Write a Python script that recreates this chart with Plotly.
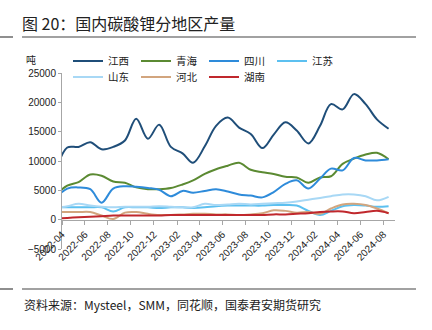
import plotly.graph_objects as go

# Monthly data (dated mid-month); first point (2022-03) lies left of the axis start and is clipped
months = ["2022-03-15"] + [f"{y}-{m:02d}-15" for y in (2022, 2023, 2024) for m in range(1, 13)
                          if (y, m) >= (2022, 4) and (y, m) <= (2024, 8)]

jiangxi = [8100, 12300, 12400, 13200, 12000, 12400, 13500, 17200, 13800, 16200, 12400, 11300, 9700,
           12500, 16000, 17400, 15700, 14600, 12200, 14500, 16600, 15200, 13000, 16000, 19700, 18800,
           21400, 19700, 17100, 15500]
qinghai = [4200, 5800, 6400, 7700, 7500, 6500, 6300, 5500, 5200, 5200, 5400, 6000, 6700,
           7800, 8600, 9200, 9700, 8500, 8100, 7800, 7300, 7200, 6300, 7200, 7400, 9500,
           10400, 11100, 11400, 10300]
sichuan = [3700, 5300, 5500, 5200, 2900, 5300, 5700, 5600, 5400, 5100, 4000, 4900, 4600,
           4900, 5200, 4800, 4300, 4100, 3800, 4700, 6100, 6700, 5300, 7000, 8700, 8400,
           10500, 10100, 10100, 10300]
jiangsu = [2100, 2100, 2100, 2100, 2100, 1400, 2100, 2100, 2100, 2000, 2100, 2100, 2000,
           2100, 2300, 2400, 2400, 2400, 2400, 2500, 2500, 2400, 1500, 800, 1500, 2300,
           2500, 2400, 2200, 2300]
shandong = [2000, 2300, 2700, 2400, 2200, 2100, 2200, 2200, 2200, 2300, 2200, 2100, 2100,
            2700, 2500, 2600, 2700, 2600, 2700, 2800, 2900, 3100, 3400, 3700, 4000, 4300,
            4300, 4000, 3300, 3900]
hebei = [1300, 1300, 1300, 1300, 700, 100, 1200, 1300, 1000, 800, 800, 900, 1000,
         1000, 900, 900, 800, 900, 1100, 1600, 1500, 1200, 1300, 1000, 1900, 2600,
         2700, 2500, 1900, 1100]
hunan = [200, 300, 400, 500, 600, 700, 700, 700, 700, 700, 800, 800, 800,
         800, 800, 800, 800, 800, 800, 900, 900, 1000, 1100, 1300, 1400, 1400,
         1100, 1300, 1500, 1100]

series = [
    ("江西", jiangxi, "#1F4E79", "legend"),
    ("青海", qinghai, "#5B8A32", "legend"),
    ("四川", sichuan, "#2E8BDA", "legend"),
    ("江苏", jiangsu, "#5CC0F0", "legend"),
    ("山东", shandong, "#A8D8F5", "legend2"),
    ("河北", hebei, "#D2A57E", "legend2"),
    ("湖南", hunan, "#C0282D", "legend2"),
]

title_text = "图 20：国内碳酸锂分地区产量"
source_text = "资料来源：Mysteel，SMM，同花顺，国泰君安期货研究"
unit_text = "吨"

CJK = "Noto Sans CJK SC"
NUM = "Liberation Sans"

fig = go.Figure()
for name, vals, color, lg in series:
    fig.add_trace(go.Scatter(
        x=months, y=vals, name=name, mode="lines",
        line=dict(color=color, width=2, shape="spline", smoothing=1.0),
        legend=lg, hoverinfo="skip",
    ))

W, H = 432, 330
L, R, T, B = 62, 37, 73, 81
pw, ph = W - L - R, H - T - B

def px(x):
    return (x - L) / pw

def py(y):
    return (H - B - y) / ph

ymin, ymax = -5000, 25000

legend_common = dict(orientation="h", xanchor="left", yanchor="middle",
                     font=dict(family=CJK, size=10.5, color="#222"),
                     bgcolor="rgba(0,0,0,0)", itemwidth=30, tracegroupgap=0,
                     entrywidth=23)

fig.update_layout(
    width=W, height=H,
    margin=dict(l=L, r=R, t=T, b=B, pad=0),
    paper_bgcolor="white", plot_bgcolor="white",
    showlegend=True,
    title=dict(text=title_text, font=dict(family=CJK, size=16, color="#222"),
               x=22 / W, xanchor="left", xref="container",
               y=1 - 24 / H, yanchor="middle", yref="container"),
    xaxis=dict(
        type="date", range=["2022-04-01", "2024-09-01"],
        tick0="2022-04-01", dtick="M2", tickformat="%Y-%m", tickangle=-45,
        showgrid=False, showline=True, linecolor="#A6A6A6", linewidth=1,
        ticks="outside", ticklen=4, tickcolor="#A6A6A6",
        tickfont=dict(family=NUM, size=10, color="#222"),
        anchor="free", position=(0 - ymin) / (ymax - ymin),
    ),
    yaxis=dict(
        range=[ymin, ymax], dtick=5000, tickformat="d", showgrid=False, zeroline=False,
        showline=True, linecolor="#A6A6A6", linewidth=1,
        ticks="outside", ticklen=3, tickcolor="#A6A6A6",
        tickfont=dict(family=NUM, size=10, color="#222"),
    ),
    legend=dict(x=px(68), y=py(61), **legend_common),
    legend2=dict(x=px(68), y=py(77), **legend_common),
)

# header / footer rules
line_style = dict(color="#444", width=1.2)
for yy in (37, 289):
    fig.add_shape(type="line", xref="paper", yref="paper", x0=px(0), x1=px(13), y0=py(yy), y1=py(yy), line=line_style)
    fig.add_shape(type="line", xref="paper", yref="paper", x0=px(22), x1=px(416), y0=py(yy), y1=py(yy), line=line_style)

fig.add_annotation(text=source_text, xref="paper", yref="paper", x=px(22), y=py(304),
                   xanchor="left", yanchor="middle", showarrow=False,
                   font=dict(family=CJK, size=12, color="#222"))
fig.add_annotation(text=unit_text, xref="paper", yref="paper", x=px(31), y=py(60),
                   xanchor="center", yanchor="middle", showarrow=False,
                   font=dict(family=CJK, size=10, color="#222"))

fig.write_html("out.html")
